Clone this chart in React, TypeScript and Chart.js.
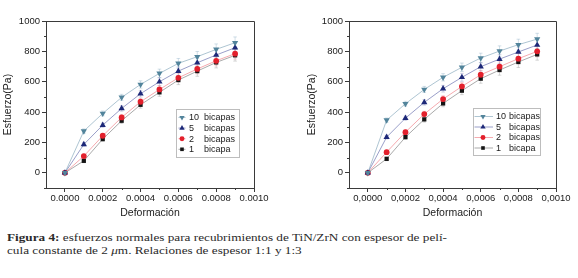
import React, { useEffect, useLayoutEffect, useRef } from "react";
import { Chart, registerables } from "chart.js";

Chart.register(...registerables);

// ---------------- DATA ----------------
const deformacion = [0, 0.0001, 0.0002, 0.0003, 0.0004, 0.0005, 0.0006, 0.0007, 0.0008, 0.0009];

const legendNumbers = ["10", "5", "2", "1"];
const legendWords = ["bicapas", "bicapas", "bicapas", "bicapa"];
const seriesNames = ["10 bicapas", "5 bicapas", "2 bicapas", "1 bicapa"];

const xTickValues = [0, 0.0002, 0.0004, 0.0006, 0.0008, 0.001];
const xTickLabelsLeft = ["0.0000", "0.0002", "0.0004", "0.0006", "0.0008", "0.0010"];
const xTickLabelsRight = ["0,0000", "0,0002", "0,0004", "0,0006", "0,0008", "0,0010"];
const yTickValues = [0, 200, 400, 600, 800, 1000];
const yTickLabels = ["0", "200", "400", "600", "800", "1000"];

// Left chart (relación 1:1)
const left10 = [0, 275, 391, 497, 582, 655, 721, 765, 813, 857];
const left5 = [0, 187, 314, 424, 521, 600, 670, 725, 776, 824];
const left2 = [0, 110, 244, 365, 468, 549, 626, 684, 738, 785];
const left1 = [0, 79, 222, 343, 448, 530, 611, 670, 727, 774];
const leftErr10 = [0, 14, 16, 20, 24, 28, 32, 34, 36, 38];
const leftErr5 = [0, 12, 14, 18, 22, 26, 28, 30, 32, 34];
const leftErr2 = [0, 12, 14, 18, 22, 26, 28, 32, 34, 36];
const leftErr1 = [0, 12, 14, 18, 22, 26, 30, 34, 36, 38];

// Right chart (relación 1:3)
const right10 = [0, 347, 455, 549, 629, 695, 756, 802, 844, 881];
const right5 = [0, 235, 360, 464, 554, 629, 699, 749, 796, 842];
const right2 = [0, 136, 268, 387, 486, 569, 646, 699, 752, 800];
const right1 = [0, 92, 235, 352, 457, 541, 620, 677, 730, 780];
const rightErr10 = [0, 14, 16, 20, 24, 28, 32, 34, 36, 38];
const rightErr5 = [0, 12, 14, 18, 22, 26, 28, 30, 32, 34];
const rightErr2 = [0, 12, 14, 18, 22, 26, 28, 32, 34, 36];
const rightErr1 = [0, 12, 14, 18, 22, 26, 30, 34, 36, 38];

// ---------------- STYLE ----------------
const markerColors = ["#52849b", "#1d2878", "#e3202c", "#141414"];
const lineColors = ["rgba(110,150,175,0.7)", "rgba(60,70,150,0.65)", "rgba(235,90,100,0.65)", "rgba(90,90,90,0.65)"];
const errColors = ["rgba(130,165,190,0.45)", "rgba(90,100,165,0.35)", "rgba(235,110,120,0.35)", "rgba(110,110,110,0.35)"];
const markerStyles = ["triangleDown", "triangleUp", "circle", "rect"];
const markerRadii = [3.6, 3.6, 2.9, 3.0];
const AXIS = "#3a3a3a";
const TEXT = "#1a1a1a";
const FONT = "'Liberation Sans', Arial, sans-serif";

function drawMarker(ctx: CanvasRenderingContext2D, style: string, x: number, y: number, r: number, color: string) {
  ctx.save();
  ctx.fillStyle = color;
  ctx.beginPath();
  if (style === "circle") {
    ctx.arc(x, y, r, 0, Math.PI * 2);
  } else if (style === "rect") {
    const s = r * Math.SQRT1_2;
    ctx.rect(x - s, y - s, 2 * s, 2 * s);
  } else {
    let rad = style === "triangleDown" ? Math.PI : 0;
    ctx.moveTo(x + Math.sin(rad) * r, y - Math.cos(rad) * r);
    rad += (2 * Math.PI) / 3;
    ctx.lineTo(x + Math.sin(rad) * r, y - Math.cos(rad) * r);
    rad += (2 * Math.PI) / 3;
    ctx.lineTo(x + Math.sin(rad) * r, y - Math.cos(rad) * r);
    ctx.closePath();
  }
  ctx.fill();
  ctx.restore();
}

type LegendCfg = {
  box: [number, number, number, number];
  lineX1: number;
  lineX2: number;
  markerX: number;
  numX: number;
  wordX: number;
  rowY0: number;
  rowStep: number;
};

type PanelProps = {
  left: number;
  width: number;
  series: number[][];
  errors: number[][];
  xLabels: string[];
  yAxisWidth: number;
  rightPad: number;
  yTitlePad: number;
  legend: LegendCfg;
};

const HEIGHT = 220;

function Panel(props: PanelProps) {
  const ref = useRef<HTMLCanvasElement | null>(null);

  useEffect(() => {
    if (!ref.current) return;
    const { series, errors, xLabels, yAxisWidth, rightPad, yTitlePad, legend } = props;

    const datasets = series.map((vals, i) => ({
      label: seriesNames[i],
      data: vals.map((v, j) => ({ x: deformacion[j], y: v })),
      showLine: true,
      borderColor: lineColors[i],
      borderWidth: 0.8,
      pointRadius: 0,
      pointHoverRadius: 0,
      fill: false,
      tension: 0,
    }));

    const errorBars = {
      id: "errorBars",
      beforeDatasetsDraw(chart: any) {
        const ctx = chart.ctx as CanvasRenderingContext2D;
        const ys = chart.scales.y;
        ctx.save();
        ctx.lineWidth = 0.8;
        series.forEach((vals, i) => {
          const meta = chart.getDatasetMeta(i);
          ctx.strokeStyle = errColors[i];
          vals.forEach((v, j) => {
            const e = errors[i][j];
            if (!e) return;
            const x = meta.data[j].x;
            const yt = ys.getPixelForValue(v + e);
            const yb = ys.getPixelForValue(v - e);
            ctx.beginPath();
            ctx.moveTo(x, yt);
            ctx.lineTo(x, yb);
            ctx.moveTo(x - 1.8, yt);
            ctx.lineTo(x + 1.8, yt);
            ctx.moveTo(x - 1.8, yb);
            ctx.lineTo(x + 1.8, yb);
            ctx.stroke();
          });
        });
        ctx.restore();
      },
      afterDatasetsDraw(chart: any) {
        const ctx = chart.ctx as CanvasRenderingContext2D;
        for (let i = series.length - 1; i >= 0; i--) {
          const meta = chart.getDatasetMeta(i);
          series[i].forEach((_v, j) => {
            const p = meta.data[j];
            drawMarker(ctx, markerStyles[i], p.x, p.y, markerRadii[i], markerColors[i]);
          });
        }
      },
    };

    const frame = {
      id: "frame",
      afterDraw(chart: any) {
        const ctx = chart.ctx as CanvasRenderingContext2D;
        const a = chart.chartArea;
        const xs = chart.scales.x;
        const ys = chart.scales.y;
        ctx.save();
        ctx.strokeStyle = AXIS;
        ctx.lineWidth = 1;
        ctx.beginPath();
        ctx.moveTo(Math.round(a.left) + 0.5, Math.round(a.top) + 0.5);
        ctx.lineTo(Math.round(a.right) + 0.5, Math.round(a.top) + 0.5);
        ctx.lineTo(Math.round(a.right) + 0.5, Math.round(a.bottom) + 0.5);
        ctx.stroke();
        // minor ticks
        ctx.beginPath();
        [-100, 100, 300, 500, 700, 900].forEach((v) => {
          const y = Math.round(ys.getPixelForValue(v)) + 0.5;
          ctx.moveTo(a.left, y);
          ctx.lineTo(a.left - 2, y);
        });
        [0.0001, 0.0003, 0.0005, 0.0007, 0.0009].forEach((v) => {
          const x = Math.round(xs.getPixelForValue(v)) + 0.5;
          ctx.moveTo(x, a.bottom);
          ctx.lineTo(x, a.bottom + 2);
        });
        ctx.stroke();

        // legend
        const [bx, by, bw, bh] = legend.box;
        ctx.strokeStyle = "#bdbdbd";
        ctx.lineWidth = 1;
        ctx.strokeRect(bx + 0.5, by + 0.5, bw, bh);
        ctx.font = `9px ${FONT}`;
        ctx.textBaseline = "middle";
        for (let i = 0; i < series.length; i++) {
          const y = legend.rowY0 + i * legend.rowStep;
          ctx.strokeStyle = lineColors[i];
          ctx.lineWidth = 0.8;
          ctx.beginPath();
          ctx.moveTo(legend.lineX1, y);
          ctx.lineTo(legend.lineX2, y);
          ctx.stroke();
          drawMarker(ctx, markerStyles[i], legend.markerX, y, markerRadii[i] * 0.85, markerColors[i]);
          ctx.fillStyle = TEXT;
          ctx.textAlign = "left";
          ctx.fillText(legendNumbers[i], legend.numX, y + 0.5);
          ctx.fillText(legendWords[i], legend.wordX, y + 0.5);
        }
        ctx.restore();
      },
    };

    const chart = new Chart(ref.current, {
      type: "scatter",
      data: { datasets: datasets as any },
      options: {
        responsive: false,
        animation: false,
        events: [],
        layout: { padding: { top: 21, right: rightPad, left: 0, bottom: 0 } },
        plugins: { legend: { display: false }, tooltip: { enabled: false } },
        scales: {
          x: {
            type: "linear",
            min: -0.0001,
            max: 0.001,
            afterBuildTicks: (s: any) => {
              s.ticks = xTickValues.map((v) => ({ value: v }));
            },
            afterFit: (s: any) => {
              s.height = HEIGHT - 188;
            },
            ticks: {
              callback: (_v: any, i: number) => xLabels[i],
              font: { family: FONT, size: 9.5 },
              color: TEXT,
              padding: 1,
              maxRotation: 0,
              autoSkip: false,
            },
            grid: { drawOnChartArea: false, drawTicks: true, tickLength: 4, tickColor: AXIS, tickWidth: 1 },
            border: { display: true, color: AXIS, width: 1 },
            title: {
              display: true,
              text: "Deformación",
              font: { family: FONT, size: 10.5 },
              color: TEXT,
              padding: { top: 0, bottom: 0.2 },
            },
          },
          y: {
            type: "linear",
            min: -100,
            max: 1000,
            afterBuildTicks: (s: any) => {
              s.ticks = yTickValues.map((v) => ({ value: v }));
            },
            afterFit: (s: any) => {
              s.width = yAxisWidth;
            },
            ticks: {
              callback: (_v: any, i: number) => yTickLabels[i],
              font: { family: FONT, size: 9.5 },
              color: TEXT,
              padding: 2,
            },
            grid: { drawOnChartArea: false, drawTicks: true, tickLength: 4, tickColor: AXIS, tickWidth: 1 },
            border: { display: true, color: AXIS, width: 1 },
            title: {
              display: true,
              text: "Esfuerzo(Pa)",
              font: { family: FONT, size: 10.5 },
              color: TEXT,
              padding: { top: yTitlePad, bottom: 0 },
            },
          },
        },
      },
      plugins: [errorBars, frame],
    });
    return () => chart.destroy();
  }, []);

  return (
    <div style={{ position: "absolute", left: props.left, top: 0, width: props.width, height: HEIGHT }}>
      <canvas ref={ref} width={props.width} height={HEIGHT} style={{ display: "block" }} />
    </div>
  );
}

const captionBold = "Figura 4:";
const captionLine1 = " esfuerzos normales para recubrimientos de TiN/ZrN con espesor de pelí-";
const captionLine2a = "cula constante de 2 ";
const captionMu = "μ";
const captionLine2b = "m. Relaciones de espesor 1:1 y 1:3";

function Caption() {
  const l1 = useRef<HTMLDivElement | null>(null);
  const l2 = useRef<HTMLDivElement | null>(null);
  useLayoutEffect(() => {
    if (!l1.current || !l2.current) return;
    const w = l1.current.getBoundingClientRect().width;
    const k = 440 / w;
    l1.current.style.transform = `scaleX(${k})`;
    l2.current.style.transform = `scaleX(${k})`;
  }, []);
  const common: React.CSSProperties = {
    position: "absolute",
    left: 7,
    fontFamily: "'Liberation Serif', 'Times New Roman', serif",
    fontSize: 11,
    lineHeight: "12px",
    whiteSpace: "nowrap",
    color: "#2a2a2a",
    transformOrigin: "0 0",
  };
  return (
    <>
      <div ref={l1} style={{ ...common, top: 231 }}>
        <b>{captionBold}</b>
        {captionLine1}
      </div>
      <div ref={l2} style={{ ...common, top: 244 }}>
        {captionLine2a}
        <i>{captionMu}</i>
        {captionLine2b}
      </div>
    </>
  );
}

export default function App() {
  return (
    <div style={{ position: "absolute", left: 0, top: 0, width: 578, height: 278, background: "#fff", overflow: "hidden" }}>
      <Panel
        left={0}
        width={290}
        series={[left10, left5, left2, left1]}
        errors={[leftErr10, leftErr5, leftErr2, leftErr1]}
        xLabels={xTickLabelsLeft}
        yAxisWidth={46}
        rightPad={36}
        yTitlePad={2}
        legend={{ box: [176, 109, 63, 48], lineX1: 178.5, lineX2: 185.5, markerX: 182, numX: 189, wordX: 204, rowY0: 117.5, rowStep: 10.6 }}
      />
      <Panel
        left={290}
        width={288}
        series={[right10, right5, right2, right1]}
        errors={[rightErr10, rightErr5, rightErr2, rightErr1]}
        xLabels={xTickLabelsRight}
        yAxisWidth={59}
        rightPad={22}
        yTitlePad={15.4}
        legend={{ box: [183, 108, 67, 47], lineX1: 184.5, lineX2: 203, markerX: 193, numX: 206, wordX: 219, rowY0: 116.5, rowStep: 10.5 }}
      />
      <Caption />
    </div>
  );
}
